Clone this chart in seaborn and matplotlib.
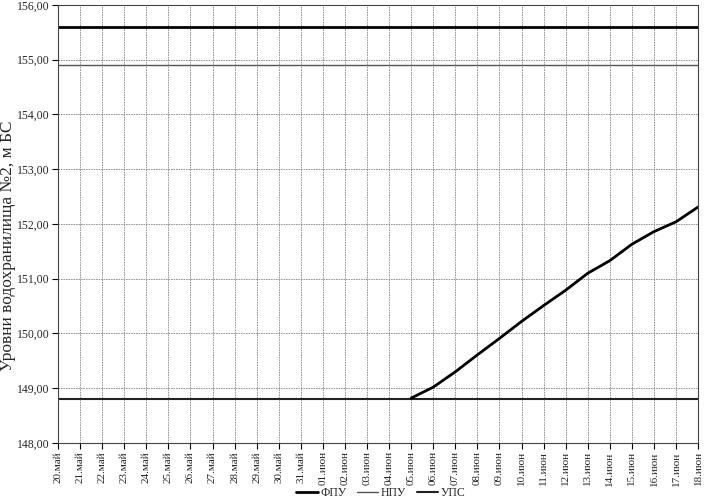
import matplotlib
matplotlib.use("Agg")
import matplotlib.pyplot as plt
import seaborn as sns
import pandas as pd

# Dates on the x axis
dates = [f"{d}.май" for d in range(20, 32)] + [f"{d:02d}.июн" for d in range(1, 19)]

# Constant levels
fpu = [155.6] * len(dates)
npu = [154.9] * len(dates)
ups = [148.8] * len(dates)

# Actual level, from 05.июн on
level_dates = ["05.июн", "06.июн", "07.июн", "08.июн", "09.июн", "10.июн", "11.июн",
               "12.июн", "13.июн", "14.июн", "15.июн", "16.июн", "17.июн", "18.июн"]
level_values = [148.82, 149.02, 149.30, 149.61, 149.91, 150.22, 150.51,
                150.79, 151.10, 151.33, 151.63, 151.86, 152.04, 152.31]

sns.set_theme(style="white")
plt.rcParams["font.family"] = ["Liberation Serif", "DejaVu Serif"]

fig = plt.figure(figsize=(7.05, 5.03), dpi=100)
ax = fig.add_axes([0.0823, 0.1193, 0.908, 0.871])

pos = {d: i for i, d in enumerate(dates)}
df = pd.DataFrame({"x": range(len(dates)), "ФПУ": fpu, "НПУ": npu, "УПС": ups})
df_level = pd.DataFrame({"x": [pos[d] for d in level_dates], "y": level_values})

sns.lineplot(data=df, x="x", y="ФПУ", ax=ax, color="black", lw=2.0, label="ФПУ")
sns.lineplot(data=df, x="x", y="НПУ", ax=ax, color="#555555", lw=1.0, label="НПУ")
sns.lineplot(data=df, x="x", y="УПС", ax=ax, color="#222222", lw=1.5, label="УПС")
sns.lineplot(data=df_level, x="x", y="y", ax=ax, color="black", lw=2.0)

ax.set_xlim(0, len(dates) - 1)
ax.set_ylim(148, 156)
ax.set_xticks(range(len(dates)))
ax.set_xticklabels(dates, rotation=90, fontsize=8)
ax.set_yticks(range(148, 157))
ax.set_yticklabels([f"{v},00" for v in range(148, 157)], fontsize=8.5)
ax.set_xlabel("")
ax.set_ylabel("Уровни водохранилища №2, м БС", fontsize=12.5)
ax.yaxis.set_label_coords(-0.066, 0.45)

ax.grid(True, color="#888888", lw=0.6, ls=(0, (2, 1)))
for s in ax.spines.values():
    s.set_color("#444444")
    s.set_linewidth(0.8)
ax.tick_params(axis="both", direction="out", length=4, width=0.8, color="black", pad=2)
ax.tick_params(axis="x", bottom=True)
ax.tick_params(axis="y", left=True)

ax.get_legend().remove()
handles, labels = ax.get_legend_handles_labels()
fig.legend(handles[:3], labels[:3], loc="center", bbox_to_anchor=(0.54, 0.02),
           ncol=3, frameon=False, fontsize=8.5, handlelength=1.8, columnspacing=0.9,
           handletextpad=0.2, borderpad=0.1)

plt.savefig("out.png", dpi=100)
